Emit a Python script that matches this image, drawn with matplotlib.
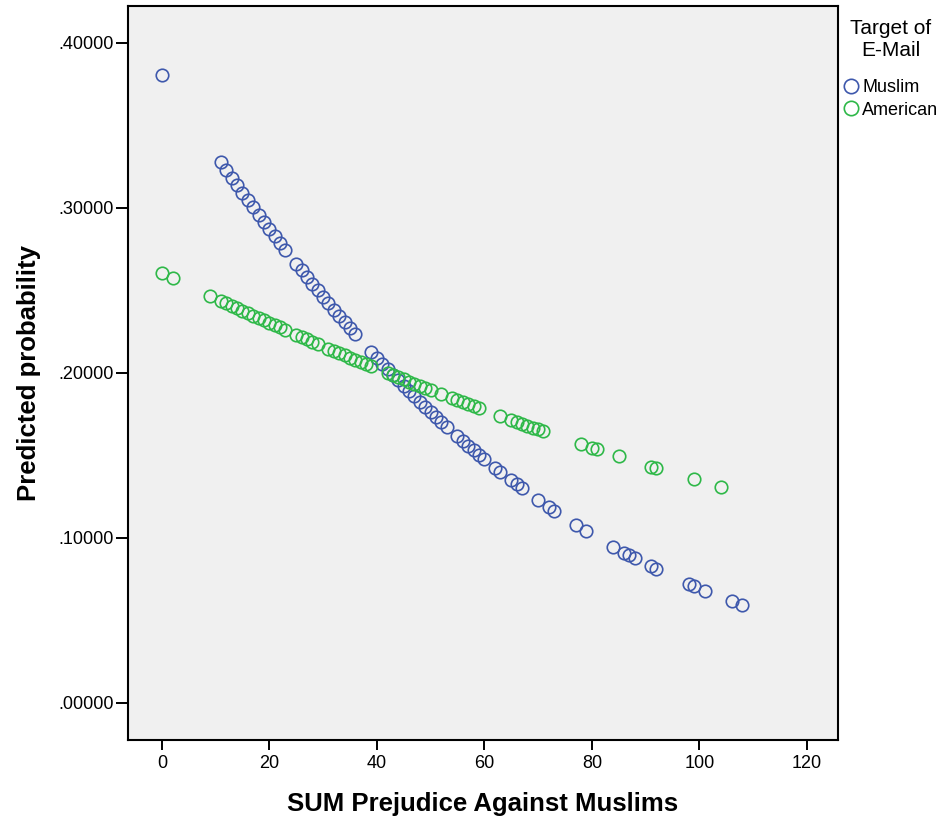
import matplotlib
matplotlib.use("Agg")
import matplotlib.pyplot as plt
from matplotlib.ticker import FuncFormatter

plt.rcParams['font.family'] = ['Liberation Sans', 'DejaVu Sans']

# Muslim target
muslim_x = [0, 11, 12, 13, 14, 15, 16, 17, 18, 19, 20, 21, 22, 23,
            25, 26, 27, 28, 29, 30, 31, 32, 33, 34, 35, 36,
            39, 40, 41, 42, 43, 44, 45, 46, 47, 48, 49, 50, 51, 52, 53,
            55, 56, 57, 58, 59, 60, 62, 63, 65, 66, 67, 70, 72, 73,
            77, 79, 84, 86, 87, 88, 91, 92, 98, 99, 101, 106, 108]
muslim_p = [0.3806, 0.3276, 0.3230, 0.3184, 0.3139, 0.3093, 0.3048, 0.3004,
            0.2960, 0.2916, 0.2873, 0.2830, 0.2787, 0.2745,
            0.2662, 0.2621, 0.2580, 0.2540, 0.2501, 0.2461, 0.2423, 0.2384,
            0.2346, 0.2308, 0.2271, 0.2234,
            0.2126, 0.2091, 0.2056, 0.2022, 0.1989, 0.1955, 0.1922, 0.1890,
            0.1858, 0.1826, 0.1795, 0.1764, 0.1733, 0.1703, 0.1674,
            0.1616, 0.1588, 0.1560, 0.1532, 0.1505, 0.1478, 0.1426, 0.1400,
            0.1350, 0.1326, 0.1302, 0.1232, 0.1187, 0.1165,
            0.1081, 0.1041, 0.0947, 0.0911, 0.0894, 0.0877, 0.0828, 0.0812,
            0.0722, 0.0708, 0.0681, 0.0617, 0.0593]

# American target
american_x = [0, 2, 9, 11, 12, 13, 14, 15, 16, 17, 18, 19, 20, 21, 22, 23,
              25, 26, 27, 28, 29, 31, 32, 33, 34, 35, 36, 37, 38, 39,
              42, 43, 44, 45, 46, 47, 48, 49, 50, 52, 54, 55, 56, 57, 58, 59,
              63, 65, 66, 67, 68, 69, 70, 71, 78, 80, 81, 85, 91, 92, 99, 104]
american_p = [0.2608, 0.2577, 0.2468, 0.2438, 0.2423, 0.2408, 0.2393, 0.2378,
              0.2363, 0.2348, 0.2334, 0.2319, 0.2305, 0.2290, 0.2276, 0.2261,
              0.2233, 0.2218, 0.2204, 0.2190, 0.2176, 0.2148, 0.2134, 0.2120,
              0.2107, 0.2093, 0.2080, 0.2066, 0.2053, 0.2040,
              0.2000, 0.1987, 0.1974, 0.1961, 0.1948, 0.1935, 0.1923, 0.1910,
              0.1897, 0.1872, 0.1847, 0.1835, 0.1823, 0.1811, 0.1798, 0.1786,
              0.1739, 0.1715, 0.1704, 0.1692, 0.1681, 0.1669, 0.1658, 0.1647,
              0.1569, 0.1547, 0.1537, 0.1495, 0.1433, 0.1423, 0.1355, 0.1307]

x_ticks = [0, 20, 40, 60, 80, 100, 120]
y_ticks = [0.0, 0.1, 0.2, 0.3, 0.4]

fig = plt.figure(figsize=(9.51, 8.18), dpi=100)
ax = fig.add_axes([0.1346, 0.0954, 0.7466, 0.8973])
ax.set_facecolor('#f0f0f0')

ax.plot(muslim_x, muslim_p, 'o', ls='none', mfc='none', mec='#3e58ac',
        ms=9, mew=1.2, label='Muslim')
ax.plot(american_x, american_p, 'o', ls='none', mfc='none', mec='#2eb848',
        ms=9, mew=1.2, label='American')

ax.set_xlim(-6.3, 125.8)
ax.set_ylim(-0.0224, 0.4224)
ax.set_xticks(x_ticks)
ax.set_yticks(y_ticks)
ax.yaxis.set_major_formatter(FuncFormatter(lambda v, p: ('%.5f' % v)[1:]))
ax.tick_params(direction='out', width=1.4, labelsize=13, colors='black')
ax.tick_params(axis='y', length=9, pad=1.5)
ax.tick_params(axis='x', length=7, pad=4)
for s in ax.spines.values():
    s.set_linewidth(1.5)

ax.set_xlabel('SUM Prejudice Against Muslims', fontsize=18.5, fontweight='bold', labelpad=14)
ax.set_ylabel('Predicted probability', fontsize=18.5, fontweight='bold', labelpad=12)

leg = fig.legend(loc='upper left', bbox_to_anchor=(0.879, 0.985), frameon=False,
                 title='Target of\nE-Mail', fontsize=13, title_fontsize=15,
                 handlelength=0.9, handletextpad=0.15, borderaxespad=0,
                 labelspacing=0.3, markerscale=1.15)
leg.get_title().set_multialignment('center')
leg.get_title().set_linespacing(1.15)
leg._legend_box.sep = 14

fig.savefig('out.png', dpi=100)
